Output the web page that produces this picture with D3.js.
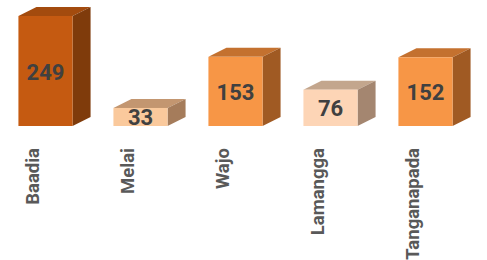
<!DOCTYPE html>
<html lang="en">
<head>
    <meta charset="UTF-8">
    <title>3D Column Chart</title>
    <script src="https://d3js.org/d3.v7.min.js"></script>
    <style>
        body { margin: 0; background: #fff; }
    </style>
</head>
<body>
<div id="chart"></div>
<script>
    // Data
    var categories = ["Baadia", "Melai", "Wajo", "Lamangga", "Tanganapada"];
    var values = [249, 33, 153, 76, 152];

    // Face colours per bar: front, top, side
    var frontColors = ["#C55A11", "#FAC99C", "#F79646", "#FDD5B6", "#F79646"];
    var topColors = ["#A34B0E", "#C39670", "#C4712F", "#C3A68D", "#C4712F"];
    var sideColors = ["#7F3B0B", "#A57C5B", "#A05A23", "#A48670", "#A05A23"];

    var width = 487, height = 260;
    var depthX = 18, depthY = 9; // 3D offset
    var floor = 4;               // extra base thickness below zero

    var svg = d3.select("#chart")
                .append("svg")
                .attr("width", width)
                .attr("height", height);

    var x = d3.scaleBand()
              .domain(categories)
              .range([-2, 473])
              .paddingInner(0.43)
              .paddingOuter(0.215);

    var y = d3.scaleLinear()
              .domain([0, 249])
              .range([122, 16]);

    var base = y(0) + floor;

    var bars = svg.selectAll(".bar")
                  .data(values)
                  .enter().append("g")
                  .attr("class", "bar");

    // top face
    bars.append("path")
        .attr("fill", function(d, i) { return topColors[i]; })
        .attr("d", function(d, i) {
            var x0 = x(categories[i]), x1 = x0 + x.bandwidth(), t = y(d);
            return "M" + x0 + "," + t +
                   "L" + (x0 + depthX) + "," + (t - depthY) +
                   "L" + (x1 + depthX) + "," + (t - depthY) +
                   "L" + x1 + "," + t + "Z";
        });

    // side face
    bars.append("path")
        .attr("fill", function(d, i) { return sideColors[i]; })
        .attr("d", function(d, i) {
            var x1 = x(categories[i]) + x.bandwidth(), t = y(d);
            return "M" + x1 + "," + t +
                   "L" + (x1 + depthX) + "," + (t - depthY) +
                   "L" + (x1 + depthX) + "," + (base - depthY) +
                   "L" + x1 + "," + base + "Z";
        });

    // front face
    bars.append("rect")
        .attr("x", function(d, i) { return x(categories[i]); })
        .attr("y", function(d) { return y(d); })
        .attr("width", x.bandwidth())
        .attr("height", function(d) { return base - y(d); })
        .attr("fill", function(d, i) { return frontColors[i]; });

    // value labels
    bars.append("text")
        .attr("x", function(d, i) { return x(categories[i]) + x.bandwidth() / 2; })
        .attr("y", function(d) { return (y(d) + base) / 2 + 1; })
        .attr("text-anchor", "middle")
        .attr("dominant-baseline", "central")
        .style("font-family", "Roboto, sans-serif")
        .style("font-weight", "bold")
        .style("font-size", "22px")
        .attr("fill", "#404040")
        .text(function(d) { return d; });

    // category labels (rotated)
    svg.selectAll(".cat")
       .data(categories)
       .enter().append("text")
       .attr("class", "cat")
       .attr("transform", function(d) {
           return "translate(" + (x(d) + x.bandwidth() / 2 - 7) + ",148) rotate(-90)";
       })
       .attr("text-anchor", "end")
       .style("font-family", "Roboto, sans-serif")
       .style("font-weight", "bold")
       .style("font-size", "18.5px")
       .attr("fill", "#595959")
       .text(function(d) { return d; });
</script>
</body>
</html>
